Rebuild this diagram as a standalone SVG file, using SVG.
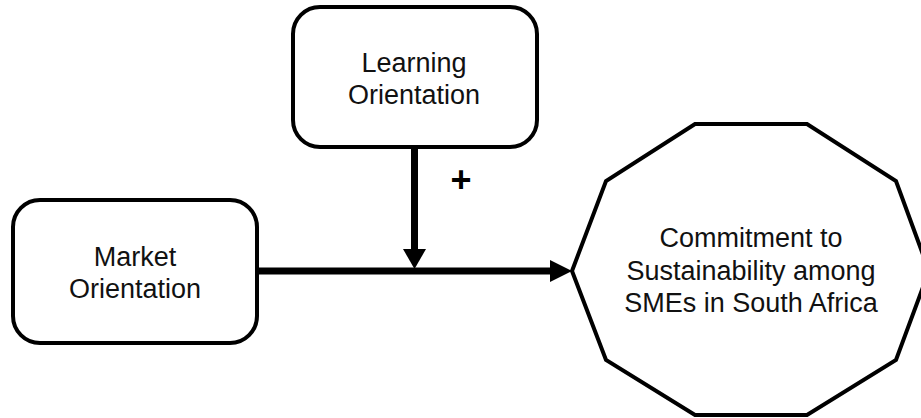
<svg xmlns="http://www.w3.org/2000/svg" width="921" height="418" viewBox="0 0 921 418">
  <style>
    .box { fill: #ffffff; stroke: #000000; stroke-width: 4; }
    .label { font-family: "Liberation Sans", Arial, sans-serif; font-size: 27px; fill: #111111; text-anchor: middle; }
    .link { stroke: #000000; stroke-width: 7; fill: none; }
    .head { fill: #000000; }
    .sign { font-family: "Liberation Sans", Arial, sans-serif; font-size: 36px; font-weight: bold; fill: #000000; text-anchor: middle; }
  </style>
  <rect width="921" height="418" fill="#ffffff"/>

  <g id="connectors">
    <line class="link" x1="258" y1="271" x2="552" y2="271"/>
    <polygon class="head" points="550,260 572,271 550,282"/>
    <line class="link" x1="414.5" y1="148" x2="414.5" y2="251"/>
    <polygon class="head" points="403,249 414.5,269 426,249"/>
    <text class="sign" x="461" y="192">+</text>
  </g>

  <g id="learning-orientation">
    <rect class="box" x="293" y="7" width="244" height="140" rx="27"/>
    <text class="label" x="414" y="72">Learning</text>
    <text class="label" x="414" y="104">Orientation</text>
  </g>

  <g id="market-orientation">
    <rect class="box" x="13" y="200" width="244" height="143" rx="27"/>
    <text class="label" x="135" y="266">Market</text>
    <text class="label" x="135" y="298">Orientation</text>
  </g>

  <g id="commitment-to-sustainability">
    <polygon class="box" points="695,124 807,124 896,181 929,271 896,360 807,415 695,415 606,360 572,271 606,181"/>
    <text class="label" x="751" y="247">Commitment to</text>
    <text class="label" x="751" y="280">Sustainability among</text>
    <text class="label" x="751" y="312">SMEs in South Africa</text>
  </g>
</svg>
